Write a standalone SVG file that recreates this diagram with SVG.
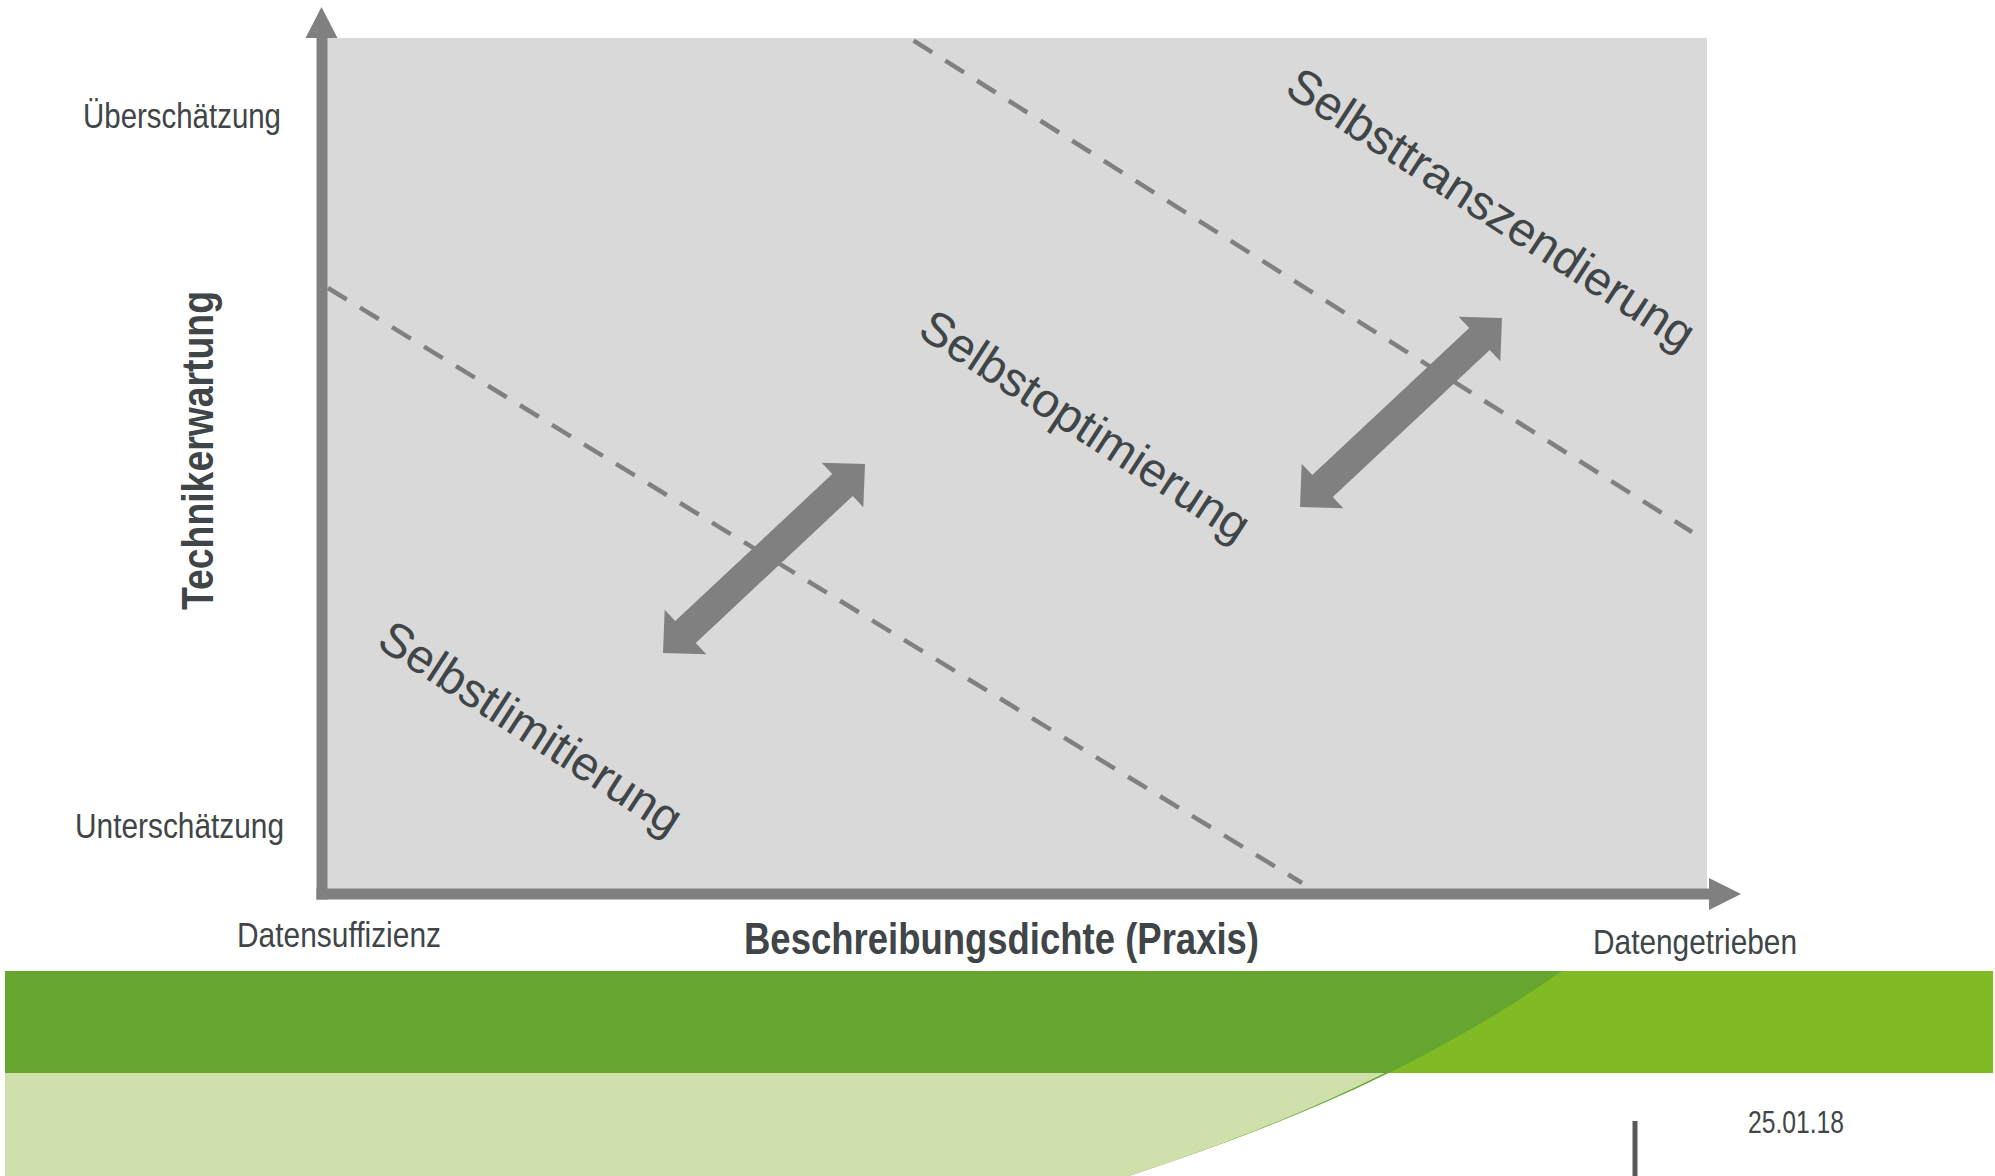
<svg xmlns="http://www.w3.org/2000/svg" width="1995" height="1176" viewBox="0 0 1995 1176">
<style>
  .lbl { font-family: "Liberation Sans", Arial, sans-serif; fill: #404548; }
  .axlbl { font-size: 35px; }
  .zone { font-size: 47.8px; }
  .bold { font-weight: bold; }
  .dash { stroke: #808080; stroke-width: 4.5; stroke-dasharray: 22 15.5; fill: none; }
  .ax { fill: #808080; }
  .dbl { fill: #808080; }
</style>
<defs>
  <polygon id="dblarrow" points="138.3,0 107.5,-30.5 107.5,-15 -107.5,-15 -107.5,-30.5 -138.3,0 -107.5,30.5 -107.5,15 107.5,15 107.5,30.5"/>
</defs>
<rect width="1995" height="1176" fill="#ffffff"/>

<g id="footer">
  <rect x="5" y="971" width="1988" height="102" fill="#80BA25"/>
  <path d="M5,971 L1562,971 C1422,1069 1279,1126.5 1129,1176 L5,1176 Z" fill="#66A530"/>
  <path d="M5,1073 L1385,1073 C1300,1115 1220,1146 1129,1176 L5,1176 Z" fill="#CFE0AB"/>
  <rect x="1632.5" y="1121" width="5" height="55" fill="#5A5A5A"/>
  <text class="lbl" x="1748" y="1133" font-size="31" textLength="96" lengthAdjust="spacingAndGlyphs">25.01.18</text>
</g>

<g id="plot-area">
  <rect x="327" y="38" width="1380" height="851" fill="#D9D9D9"/>
</g>

<g id="connectors">
  <line class="dash" x1="328" y1="288" x2="1302" y2="883"/>
  <line class="dash" x1="913.6" y1="40.7" x2="1692" y2="532"/>
  <use href="#dblarrow" class="dbl" transform="translate(764,558.5) rotate(-43.1)"/>
  <use href="#dblarrow" class="dbl" transform="translate(1401,412.5) rotate(-43.1)"/>
</g>

<g id="axes">
  <rect class="ax" x="316.5" y="36" width="11" height="863.5"/>
  <polygon class="ax" points="321.5,7 337.5,38 305.5,38"/>
  <rect class="ax" x="316.5" y="888.5" width="1394" height="11"/>
  <polygon class="ax" points="1741,894 1709,878 1709,910"/>
</g>

<g id="y-axis-labels">
  <text class="lbl axlbl" x="83" y="128" textLength="198" lengthAdjust="spacingAndGlyphs">Überschätzung</text>
  <text class="lbl axlbl" x="75" y="838" textLength="209" lengthAdjust="spacingAndGlyphs">Unterschätzung</text>
  <text class="lbl bold" font-size="44" transform="translate(213,610) rotate(-90)" textLength="319" lengthAdjust="spacingAndGlyphs">Technikerwartung</text>
</g>

<g id="x-axis-labels">
  <text class="lbl axlbl" x="237" y="947" textLength="204" lengthAdjust="spacingAndGlyphs">Datensuffizienz</text>
  <text class="lbl bold" font-size="45" x="744" y="954" textLength="515" lengthAdjust="spacingAndGlyphs">Beschreibungsdichte (Praxis)</text>
  <text class="lbl axlbl" x="1593" y="953.5" textLength="204" lengthAdjust="spacingAndGlyphs">Datengetrieben</text>
</g>

<g id="node-selbstlimitierung">
  <text class="lbl zone" font-size="46.8" transform="translate(375,646) rotate(33)">Selbstlimitierung</text>
</g>
<g id="node-selbstoptimierung">
  <text class="lbl zone" transform="translate(916,335) rotate(33)">Selbstoptimierung</text>
</g>
<g id="node-selbsttranszendierung">
  <text class="lbl zone" font-size="47.2" transform="translate(1283,93) rotate(33)">Selbsttranszendierung</text>
</g>
</svg>
